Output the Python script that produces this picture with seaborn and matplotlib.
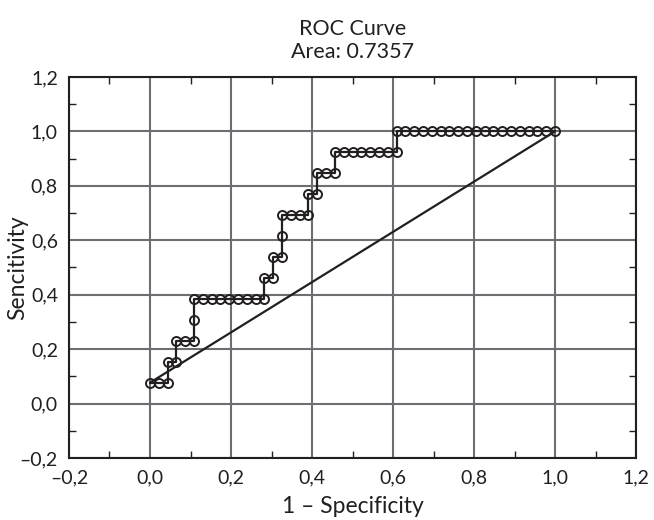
import matplotlib
matplotlib.use("Agg")
import matplotlib.pyplot as plt
from matplotlib.ticker import FuncFormatter, MultipleLocator
import pandas as pd
import seaborn as sns

# ROC points: counts of false positives (of 46) and true positives (of 13)
n_neg = 46
n_pos = 13
fp_counts = [0, 1, 2, 2, 3, 3, 4, 5, 5, 5, 6, 7, 8, 9, 10, 11, 12, 13, 13, 14, 14, 15, 15, 15,
             16, 17, 18, 18, 19, 19, 20, 21, 21, 22, 23, 24, 25, 26, 27, 28, 28, 29, 30, 31,
             32, 33, 34, 35, 36, 37, 38, 39, 40, 41, 42, 43, 44, 45, 46]
tp_counts = [1, 1, 1, 2, 2, 3, 3, 3, 4, 5, 5, 5, 5, 5, 5, 5, 5, 5, 6, 6, 7, 7, 8, 9,
             9, 9, 9, 10, 10, 11, 11, 11, 12, 12, 12, 12, 12, 12, 12, 12, 13, 13, 13, 13,
             13, 13, 13, 13, 13, 13, 13, 13, 13, 13, 13, 13, 13, 13, 13]
area = 0.7357

roc = pd.DataFrame({"fpr": [c / n_neg for c in fp_counts],
                    "tpr": [c / n_pos for c in tp_counts]})
ref = pd.DataFrame({"fpr": [roc["fpr"].iloc[0], 1.0],
                    "tpr": [roc["tpr"].iloc[0], 1.0]})

sns.set_style("white")
plt.rcParams["font.family"] = ["Lato", "DejaVu Sans"]

ink = "#231f20"
grid_col = "#6d6e71"

fig = plt.figure(figsize=(6.54, 5.2), dpi=100)
ax = fig.add_axes([0.1055, 0.1192, 0.867, 0.7328])

sns.lineplot(data=ref, x="fpr", y="tpr", ax=ax, color=ink, linewidth=1.6,
             estimator=None, sort=False)
sns.lineplot(data=roc, x="fpr", y="tpr", ax=ax, color=ink, linewidth=1.6,
             estimator=None, sort=False, marker="o", markersize=6.5,
             markerfacecolor="none", markeredgecolor=ink, markeredgewidth=1.4)

ax.set_xlim(-0.2, 1.2)
ax.set_ylim(-0.2, 1.2)
ax.xaxis.set_major_locator(MultipleLocator(0.2))
ax.yaxis.set_major_locator(MultipleLocator(0.2))
ax.xaxis.set_minor_locator(MultipleLocator(0.1))
ax.yaxis.set_minor_locator(MultipleLocator(0.1))

fmt = FuncFormatter(lambda v, p: f"{v:.1f}".replace(".", ",").replace("-", "\u2013"))
ax.xaxis.set_major_formatter(fmt)
ax.yaxis.set_major_formatter(fmt)

ax.grid(True, which="major", color=grid_col, linewidth=1.5)
ax.set_axisbelow(True)
ax.tick_params(which="major", length=0, labelsize=14, colors=ink, pad=8)
ax.tick_params(which="minor", direction="in", length=5, width=1, color=ink,
               top=True, right=True, bottom=True, left=True)
for s in ax.spines.values():
    s.set_color(ink)
    s.set_linewidth(1.5)

ax.set_xlabel("1 \u2013 Specificity", fontsize=16.5, color=ink, labelpad=7)
ax.set_ylabel("Sencitivity", fontsize=16.5, color=ink)
ax.yaxis.set_label_coords(-0.072, 0.5)
ax.set_title(f"ROC Curve\nArea: {area}", fontsize=15.5, color=ink, pad=14,
             linespacing=1.15)

fig.savefig("out.png", dpi=100)
